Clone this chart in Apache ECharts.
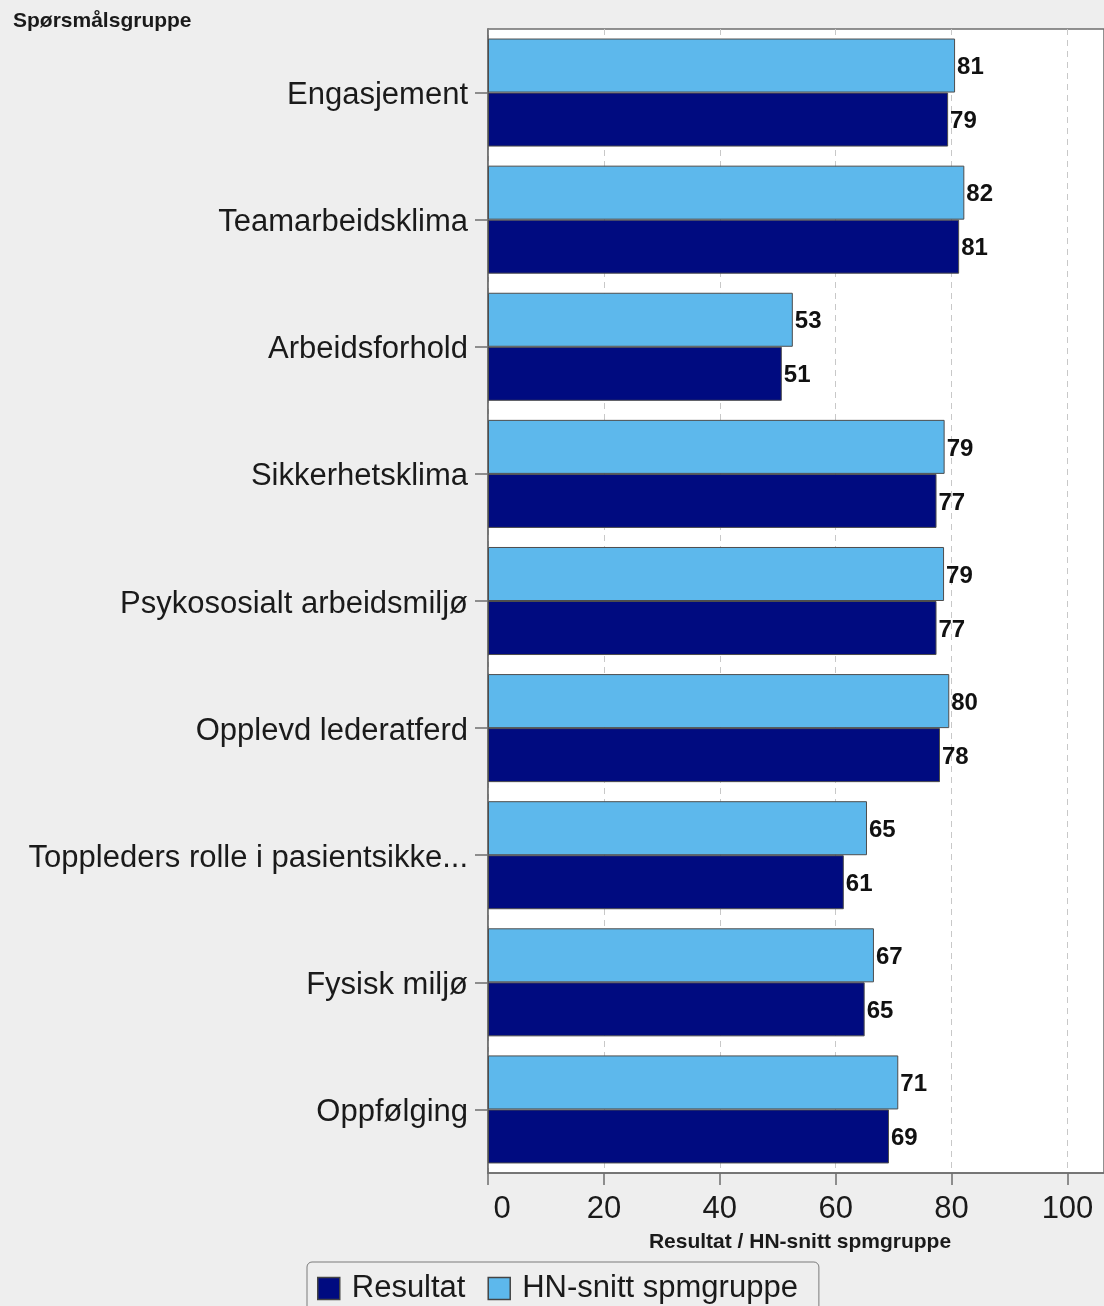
<!DOCTYPE html>
<html>
<head>
<meta charset="utf-8">
<title>Spørsmålsgruppe</title>
<script src="https://cdn.jsdelivr.net/npm/echarts@6/dist/echarts.min.js"></script>
<style>
  html, body { margin: 0; padding: 0; background: #eeeeee; }
  #chart { width: 1104px; height: 1306px; }
</style>
</head>
<body>
<div id="chart"></div>
<script>
// data
const categories = [
  'Engasjement',
  'Teamarbeidsklima',
  'Arbeidsforhold',
  'Sikkerhetsklima',
  'Psykososialt arbeidsmiljø',
  'Opplevd lederatferd',
  'Toppleders rolle i pasientsikke...',
  'Fysisk miljø',
  'Oppfølging'
]
const resultat = [79.4, 81.3, 50.7, 77.4, 77.4, 78.0, 61.4, 65.0, 69.2]
const hnSnitt = [80.6, 82.2, 52.6, 78.8, 78.7, 79.6, 65.4, 66.6, 70.8]
const xTicks = [0, 20, 40, 60, 80, 100]

const font = '"Liberation Sans", Arial, sans-serif'
const darkBlue = '#000b80'
const lightBlue = '#5db8ec'
const axisGray = '#6e6e6e'

const chart = echarts.init(document.getElementById('chart'))

const barLabel = {
  show: true,
  position: 'right',
  distance: 2,
  offset: [0, 2],
  fontFamily: font,
  fontSize: 24,
  fontWeight: 'bold',
  color: '#111',
  formatter: p => Math.round(p.value)
}

const option = {
  backgroundColor: '#eeeeee',
  textStyle: { fontFamily: font },
  title: {
    text: 'Spørsmålsgruppe',
    left: 8,
    top: 6,
    textStyle: { fontFamily: font, fontSize: 21, fontWeight: 'bold', color: '#1a1a1a' }
  },
  legend: {
    data: ['Resultat', 'HN-snitt spmgruppe'],
    left: 307,
    top: 1262,
    icon: 'rect',
    itemWidth: 22,
    itemHeight: 22,
    itemGap: 22,
    padding: [11, 21, 8, 10],
    borderColor: '#7a7a7a',
    borderWidth: 1,
    borderRadius: 5,
    itemStyle: { borderColor: '#444', borderWidth: 1.5 },
    textStyle: { fontFamily: font, fontSize: 31, color: '#1a1a1a', padding: [0, 0, 0, 7] }
  },
  grid: {
    left: 488,
    right: -2,
    top: 29,
    bottom: 133,
    show: true,
    backgroundColor: '#ffffff',
    borderColor: axisGray,
    borderWidth: 1.5
  },
  xAxis: {
    type: 'value',
    min: 0,
    max: 106.3,
    interval: 20,
    name: 'Resultat / HN-snitt spmgruppe',
    nameLocation: 'middle',
    nameGap: 59,
    nameTextStyle: { fontFamily: font, fontSize: 21, fontWeight: 'bold', color: '#1a1a1a', padding: [0, 0, 0, 8] },
    axisLine: { show: true, lineStyle: { color: axisGray, width: 1.5 } },
    axisTick: { show: true, length: 12, lineStyle: { color: axisGray, width: 1.5 } },
    axisLabel: {
      fontFamily: font,
      fontSize: 31,
      color: '#1a1a1a',
      margin: 21,
      showMaxLabel: false,
      formatter: v => {
        if (xTicks.indexOf(v) < 0) return ''
        return v === 0 ? '{first|0}' : String(v)
      },
      rich: {
        first: { fontFamily: font, fontSize: 31, color: '#1a1a1a', padding: [0, 0, 0, 28] }
      }
    },
    splitLine: { show: true, lineStyle: { color: '#c8c8c8', type: [6, 5], width: 1 } }
  },
  yAxis: {
    type: 'category',
    inverse: true,
    data: categories,
    axisLine: { show: true, lineStyle: { color: axisGray, width: 1.5 } },
    axisTick: { show: true, alignWithLabel: true, length: 13, lineStyle: { color: axisGray, width: 1.5 } },
    axisLabel: {
      margin: 20,
      formatter: v => '{c|' + v + '}',
      rich: {
        c: { fontFamily: font, fontSize: 31, color: '#1a1a1a', padding: [6, 0, 0, 0] }
      }
    }
  },
  series: [
    {
      name: 'HN-snitt spmgruppe',
      type: 'bar',
      data: hnSnitt,
      barCategoryGap: '15%',
      barGap: '0%',
      itemStyle: { color: lightBlue, borderColor: '#4d4d4d', borderWidth: 1 },
      label: barLabel
    },
    {
      name: 'Resultat',
      type: 'bar',
      data: resultat,
      barCategoryGap: '15%',
      barGap: '0%',
      itemStyle: { color: darkBlue, borderColor: '#4d4d4d', borderWidth: 1 },
      label: barLabel
    }
  ]
}

chart.setOption(option)
window.addEventListener('resize', chart.resize)
</script>
</body>
</html>
